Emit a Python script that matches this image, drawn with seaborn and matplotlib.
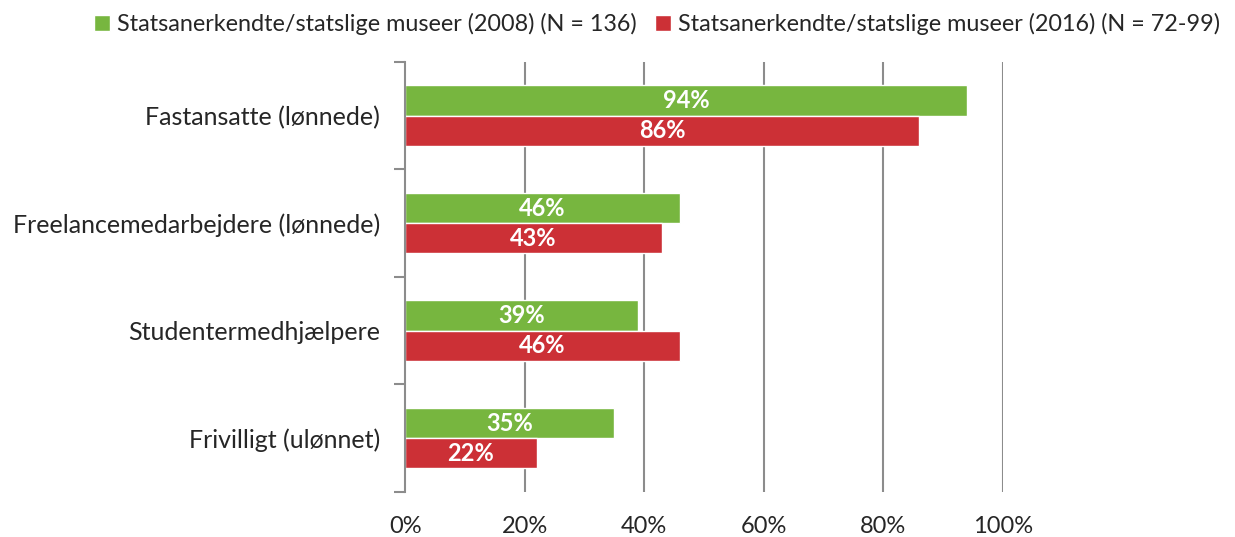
import pandas as pd
import matplotlib.pyplot as plt
import seaborn as sns
from matplotlib.ticker import FixedLocator

categories = ["Fastansatte (lønnede)", "Freelancemedarbejdere (lønnede)",
              "Studentermedhjælpere", "Frivilligt (ulønnet)"]
series_names = ["Statsanerkendte/statslige museer (2008) (N = 136)",
                "Statsanerkendte/statslige museer (2016) (N = 72-99)"]
values_2008 = [94, 46, 39, 35]
values_2016 = [86, 43, 46, 22]
x_ticks = [0, 20, 40, 60, 80, 100]

colors = ["#77B63F", "#CC3036"]

df = pd.DataFrame({
    "kategori": categories * 2,
    "serie": [series_names[0]] * 4 + [series_names[1]] * 4,
    "andel": values_2008 + values_2016,
})

sns.set_style("white")
plt.rcParams["font.family"] = ["Lato", "DejaVu Sans"]

fig = plt.figure(figsize=(12.35, 5.37), dpi=100)
ax = fig.add_axes([0.328, 0.084, 0.484, 0.801])

sns.barplot(data=df, y="kategori", x="andel", hue="serie", orient="h",
            palette=colors, width=0.56, saturation=1, ax=ax, legend=True)

for cont in ax.containers:
    ax.bar_label(cont, labels=[f"{v:.0f}%" for v in cont.datavalues],
                 label_type="center", color="white", fontsize=17, fontweight="bold")

ax.set_xlim(0, 100)
ax.set_ylim(len(categories) - 0.5, -0.5)
ax.set_xticks(x_ticks)
ax.set_xticklabels([f"{t}%" for t in x_ticks], fontsize=17)
ax.tick_params(axis="x", length=0, pad=17)
ax.tick_params(axis="y", which="major", length=0, labelsize=18, pad=18)
ax.yaxis.set_minor_locator(FixedLocator([i - 0.5 for i in range(len(categories) + 1)]))
ax.tick_params(axis="y", which="minor", length=8, width=1.5, color="#8C8C8C", left=True)
ax.set_xlabel("")
ax.set_ylabel("")

for t in x_ticks[1:]:
    ax.axvline(t, color="#8C8C8C", lw=1.5, zorder=0)
for s in ["top", "right", "bottom"]:
    ax.spines[s].set_visible(False)
ax.spines["left"].set_color("#8C8C8C")
ax.spines["left"].set_linewidth(1.5)

handles, labels = ax.get_legend_handles_labels()
ax.get_legend().remove()
fig.legend(handles, labels, loc="upper center", bbox_to_anchor=(0.532, 1.015), ncol=2,
           frameon=False, fontsize=16.8, handlelength=0.7, handleheight=0.7,
           handletextpad=0.3, columnspacing=0.8)

fig.savefig("out.png", dpi=100)
